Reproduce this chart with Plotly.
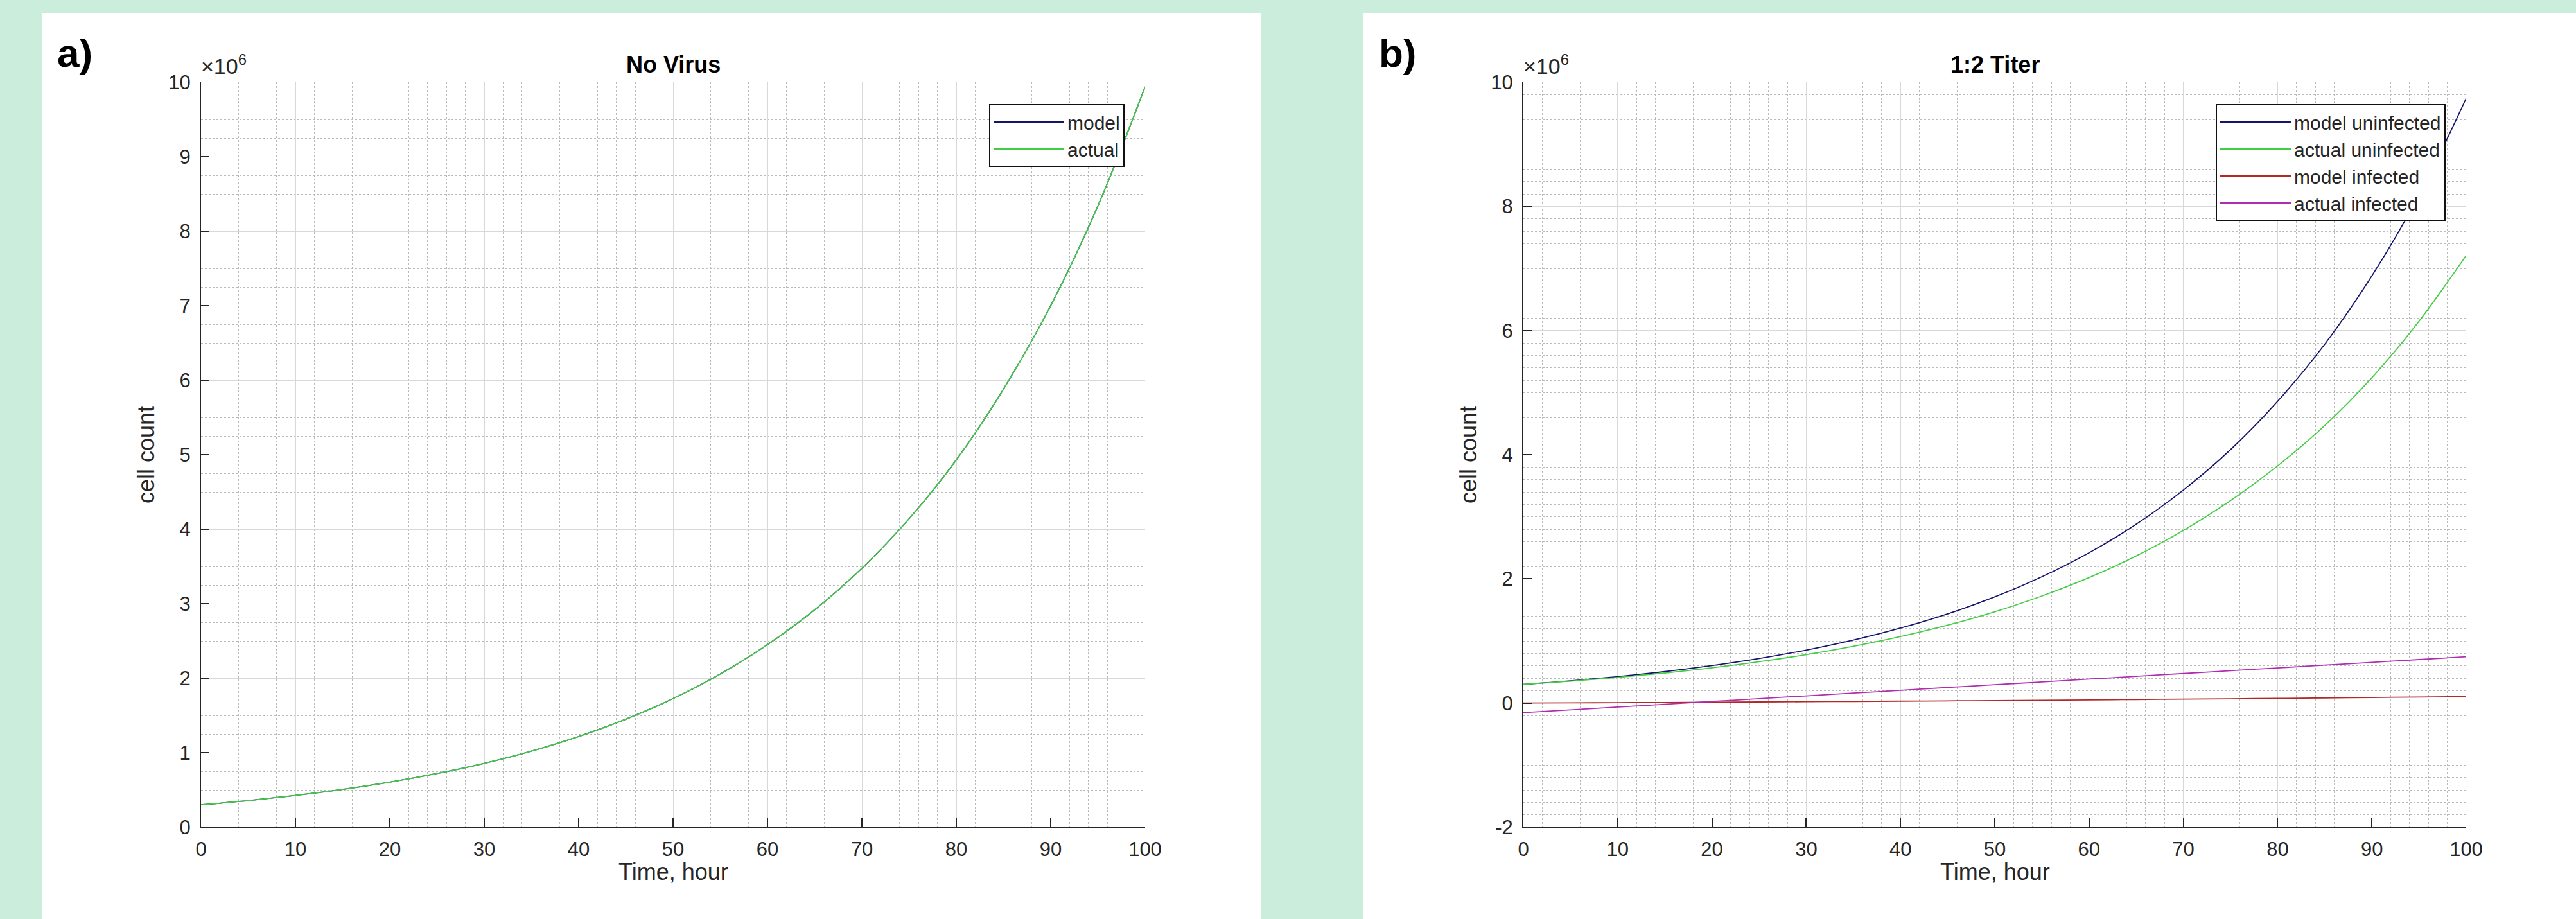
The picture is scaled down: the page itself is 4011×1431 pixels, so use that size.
import plotly.graph_objects as go

# ---------------- data (cell counts in millions) ----------------
hours = [0, 5, 10, 15, 20, 25, 30, 35, 40, 45, 50, 55, 60, 65, 70, 75, 80, 85, 90, 95, 100]

a_model = [0.30, 0.357, 0.426, 0.507, 0.604, 0.720, 0.857, 1.021, 1.217, 1.449, 1.726,
           2.056, 2.450, 2.918, 3.476, 4.14, 4.93, 5.88, 7.00, 8.34, 9.94]
a_actual = [0.30, 0.357, 0.426, 0.507, 0.604, 0.720, 0.857, 1.021, 1.217, 1.449, 1.726,
            2.056, 2.450, 2.918, 3.476, 4.14, 4.93, 5.88, 7.00, 8.34, 9.94]

b_model_uninf = [0.30, 0.357, 0.425, 0.506, 0.602, 0.716, 0.852, 1.014, 1.207, 1.436, 1.709,
                 2.034, 2.42, 2.88, 3.43, 4.08, 4.86, 5.78, 6.88, 8.18, 9.74]
b_actual_uninf = [0.30, 0.352, 0.412, 0.483, 0.566, 0.664, 0.779, 0.913, 1.070, 1.254, 1.470,
                  1.724, 2.02, 2.37, 2.78, 3.26, 3.82, 4.47, 5.24, 6.15, 7.21]
b_model_inf = [0.00, 0.003, 0.006, 0.009, 0.013, 0.017, 0.021, 0.025, 0.030, 0.035, 0.040,
               0.045, 0.050, 0.056, 0.062, 0.068, 0.075, 0.082, 0.089, 0.097, 0.105]
b_actual_inf = [-0.155, -0.11, -0.065, -0.02, 0.025, 0.07, 0.115, 0.16, 0.205, 0.25, 0.295,
                0.34, 0.385, 0.43, 0.475, 0.52, 0.565, 0.61, 0.655, 0.70, 0.745]

a_names = ["model", "actual"]
b_names = ["model uninfected", "actual uninfected", "model infected", "actual infected"]
titles = ["No Virus", "1:2 Titer"]
panel_labels = ["a)", "b)"]
x_label = "Time, hour"
y_label = "cell count"
x_ticks = [0, 10, 20, 30, 40, 50, 60, 70, 80, 90, 100]
a_yticks = [0, 1, 2, 3, 4, 5, 6, 7, 8, 9, 10]
b_yticks = [-2, 0, 2, 4, 6, 8, 10]
b_yticklabels = ["-2", "0", "2", "4", "6", "8", "10"]

C_NAVY = "#15156e"
C_GREEN = "#45cc45"
C_RED = "#b02a2a"
C_MAG = "#b02cb0"
TXT = "#262626"
FONT = "Liberation Sans, Arial, Helvetica, sans-serif"
BG = "#cbeddc"
MINOR = "#b9b9b9"
MAJOR = "#d8d8d8"

W, H = 4011, 1431

def px_x(p):
    return p / W

def px_y(p):
    return 1 - p / H

fig = go.Figure()

lw = 1.8
fig.add_trace(go.Scatter(x=hours, y=a_model, name=a_names[0], mode="lines", line=dict(color=C_NAVY, width=lw, shape="spline"), xaxis="x", yaxis="y", legend="legend"))
fig.add_trace(go.Scatter(x=hours, y=a_actual, name=a_names[1], mode="lines", line=dict(color=C_GREEN, width=lw, shape="spline"), xaxis="x", yaxis="y", legend="legend"))

b_series = [b_model_uninf, b_actual_uninf, b_model_inf, b_actual_inf]
b_colors = [C_NAVY, C_GREEN, C_RED, C_MAG]
for nm, ys, c in zip(b_names, b_series, b_colors):
    fig.add_trace(go.Scatter(x=hours, y=ys, name=nm, mode="lines", line=dict(color=c, width=lw, shape="spline"), xaxis="x2", yaxis="y2", legend="legend2"))

plot_top, plot_bot = 128, 1288
a_left, a_right = 313, 1783
b_left, b_right = 2372, 3840

common_x = dict(
    range=[0, 100], tickvals=x_ticks, ticks="inside", ticklen=14, tickwidth=2, tickcolor=TXT,
    showline=True, linecolor=TXT, linewidth=2, mirror=False, zeroline=False,
    showgrid=True, gridcolor=MAJOR, gridwidth=1, automargin=False,
    minor=dict(dtick=2, showgrid=True, gridcolor=MINOR, griddash="dot", gridwidth=1, ticks=""),
    tickfont=dict(family=FONT, size=31, color=TXT), fixedrange=True, ticklabelstandoff=6,
)
common_y = dict(
    ticks="inside", ticklen=13, tickwidth=2, tickcolor=TXT,
    showline=True, linecolor=TXT, linewidth=2, mirror=False, zeroline=False,
    showgrid=True, gridcolor=MAJOR, gridwidth=1, automargin=False,
    tickfont=dict(family=FONT, size=31, color=TXT), fixedrange=True, ticklabelstandoff=8,
)

leg_common = dict(xanchor="right", yanchor="top", bgcolor="white", bordercolor="#111111", borderwidth=2,
                  font=dict(family=FONT, size=30, color=TXT), itemwidth=110, tracegroupgap=0)

fig.update_layout(
    width=W, height=H, autosize=False,
    margin=dict(l=0, r=0, t=0, b=0, pad=0, autoexpand=False),
    paper_bgcolor=BG, plot_bgcolor="white",
    font=dict(family=FONT, color=TXT),
    xaxis=dict(domain=[px_x(a_left), px_x(a_right)], anchor="y", **common_x),
    yaxis=dict(domain=[px_y(plot_bot), px_y(plot_top)], anchor="x", range=[0, 10], tickvals=a_yticks,
               minor=dict(dtick=0.25, showgrid=True, gridcolor=MINOR, griddash="dot", gridwidth=1, ticks=""),
               **common_y),
    xaxis2=dict(domain=[px_x(b_left), px_x(b_right)], anchor="y2", **common_x),
    yaxis2=dict(domain=[px_y(plot_bot), px_y(plot_top)], anchor="x2", range=[-2, 10], tickvals=b_yticks,
                ticktext=b_yticklabels,
                minor=dict(dtick=0.2, showgrid=True, gridcolor=MINOR, griddash="dot", gridwidth=1, ticks=""),
                **common_y),
    legend=dict(x=px_x(1751), y=px_y(162), **leg_common),
    legend2=dict(x=px_x(3808), y=px_y(162), **leg_common),
    showlegend=True,
)

# white panels
fig.add_shape(type="rect", xref="paper", yref="paper", x0=px_x(65), x1=px_x(1963), y0=0, y1=px_y(21),
              fillcolor="white", line=dict(width=0), layer="below")
fig.add_shape(type="rect", xref="paper", yref="paper", x0=px_x(2123), x1=1, y0=0, y1=px_y(21),
              fillcolor="white", line=dict(width=0), layer="below")

anns = []
for i, (l, r, pl) in enumerate([(a_left, a_right, 87), (b_left, b_right, 2145)]):
    cx = (l + r) / 2
    anns.append(dict(text="<b>" + titles[i] + "</b>", x=px_x(cx), y=px_y(100), xref="paper", yref="paper",
                     xanchor="center", yanchor="middle", showarrow=False, font=dict(family=FONT, size=36, color="black")))
    anns.append(dict(text="<b>" + panel_labels[i] + "</b>", x=px_x(pl), y=px_y(82), xref="paper", yref="paper",
                     xanchor="left", yanchor="middle", showarrow=False, font=dict(family=FONT, size=62, color="black")))
    anns.append(dict(text=x_label, x=px_x(cx), y=px_y(1357), xref="paper", yref="paper",
                     xanchor="center", yanchor="middle", showarrow=False, font=dict(family=FONT, size=36, color=TXT)))
    anns.append(dict(text=y_label, x=px_x(l - 86), y=px_y((plot_top + plot_bot) / 2), xref="paper", yref="paper",
                     xanchor="center", yanchor="middle", textangle=-90, showarrow=False, font=dict(family=FONT, size=36, color=TXT)))
    anns.append(dict(text="\u00d710<sup>6</sup>", x=px_x(l - 2), y=px_y(124), xref="paper", yref="paper",
                     xanchor="left", yanchor="bottom", showarrow=False, font=dict(family=FONT, size=34, color=TXT)))
fig.update_layout(annotations=anns)

fig.write_html("out.html", config={"displayModeBar": False},
               post_script="document.body.style.margin='0px';document.body.style.padding='0px';document.body.style.overflow='hidden';")
